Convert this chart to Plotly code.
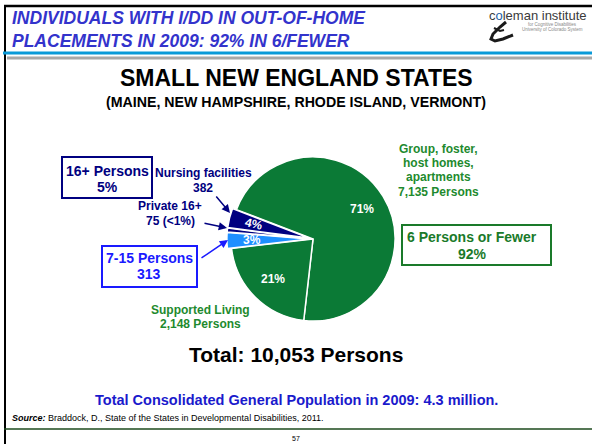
import math
import plotly.graph_objects as go

# Placement categories (small New England states, 2009)
categories = ["Group, foster, host homes, apartments", "Supported Living",
              "7-15 Persons", "Private 16+", "Nursing facilities"]
persons = [7135, 2148, 313, 75, 382]
slice_colors = ["#0b7a36", "#0b7a36", "#1e8fff", "#000080", "#000080"]
slice_pull = [0, 0, 0.05, 0.05, 0.05]
show_pct = [True, True, True, False, True]

total = sum(persons)
W, H = 592, 444
FONT = "Arial, Liberation Sans, sans-serif"


def px(x):
    return x / W


def py(y):
    return 1 - y / H


# pie geometry (pixels)
cx, cy, r = 313, 239, 82
ROTATION = -69  # degrees clockwise from 12 o'clock where the first slice starts
half = r * (1 + max(slice_pull))

fig = go.Figure(go.Pie(
    labels=categories,
    values=persons,
    sort=False,
    direction="clockwise",
    rotation=ROTATION,
    pull=slice_pull,
    textinfo="none",
    marker=dict(colors=slice_colors, line=dict(color="white", width=1.5)),
    domain=dict(x=[px(cx - half), px(cx + half)], y=[py(cy + half), py(cy - half)]),
    hoverinfo="label+value+percent",
    showlegend=False,
))

shapes = []


def line(x0, y0, x1, y1, color, width):
    shapes.append(dict(type="line", xref="paper", yref="paper",
                       x0=px(x0), y0=py(y0), x1=px(x1), y1=py(y1),
                       line=dict(color=color, width=width)))


def box(x0, y0, x1, y1, color):
    shapes.append(dict(type="rect", xref="paper", yref="paper",
                       x0=px(x0), y0=py(y0), x1=px(x1), y1=py(y1),
                       line=dict(color=color, width=2), fillcolor="white"))


def path(points, color, width):
    d = "M " + " L ".join(f"{px(x)},{py(y)}" for x, y in points)
    shapes.append(dict(type="path", xref="paper", yref="paper", path=d,
                       line=dict(color=color, width=width)))


# slide frame
line(4, 6, 592, 6, "black", 2.5)
line(5, 5, 5, 444, "black", 2)
line(3, 53, 592, 53, "#0a9ad8", 3)
line(7, 58, 592, 58, "#a8a8a8", 3)
line(4, 429, 592, 429, "#1d4a1d", 1.5)

# callout boxes
box(62, 157, 152, 198, "#000080")
box(102, 246, 197, 287, "#1a1aff")
box(402, 225, 551, 265, "#1a7a2a")

# logo swoosh
path([(506, 22), (500, 27), (493, 34), (491, 39), (495, 41), (503, 39), (513, 35)], "#1a1a1a", 3)
path([(494, 28), (500, 31), (504, 30)], "#1a1a1a", 2)

annotations = []


def text(x, y, s, size, color, bold=True, italic=False, anchor="center", angle=0):
    t = s
    if bold:
        t = f"<b>{t}</b>"
    if italic:
        t = f"<i>{t}</i>"
    annotations.append(dict(x=px(x), y=py(y), xref="paper", yref="paper", text=t,
                            showarrow=False, xanchor=anchor, yanchor="middle",
                            textangle=angle,
                            font=dict(family=FONT, size=size, color=color)))


def lines(x, ys, rows, size, color):
    for y, row in zip(ys, rows):
        text(x, y, row, size, color)


def arrow(x_head, y_head, x_tail, y_tail, color):
    annotations.append(dict(x=px(x_head), y=py(y_head), xref="paper", yref="paper",
                            ax=x_tail - x_head, ay=y_tail - y_head, text="",
                            showarrow=True, arrowhead=2, arrowsize=1.1,
                            arrowwidth=1.5, arrowcolor=color))


# percentage labels placed at each slice's mid-angle
start = 90 - ROTATION
cum = 0
for v, pull, show in zip(persons, slice_pull, show_pct):
    mid = start - (cum + v / 2) / total * 360
    cum += v
    if not show:
        continue
    rad = math.radians(mid)
    rr = 57 + pull * r
    lx = cx + rr * math.cos(rad)
    ly = cy - rr * math.sin(rad)
    tilt = 0
    if v / total < 0.05 and abs(math.sin(rad)) > 0.15:
        tilt = -math.degrees(math.atan(math.tan(rad)))
    text(lx, ly, f"{round(v / total * 100)}%", 12, "white", angle=tilt)

# header
text(10, 18, "INDIVIDUALS WITH I/DD IN OUT-OF-HOME", 17.5, "#3333cc", italic=True, anchor="left")
text(10, 41, "PLACEMENTS IN 2009: 92% IN 6/FEWER", 17.5, "#3333cc", italic=True, anchor="left")

# logo text
text(538, 16, "c<span style='color:#1a5fa8'>o</span>leman institute", 13, "#3a3a3a", bold=False)
text(552, 25, "for Cognitive Disabilities", 4.5, "#888", bold=False)
text(552, 30, "University of Colorado System", 4.5, "#888", bold=False)

# titles
text(296, 78, "SMALL NEW ENGLAND STATES", 23, "black")
text(296, 102, "(MAINE, NEW HAMPSHIRE, RHODE ISLAND, VERMONT)", 14.2, "black")

# category labels
grp, sup, mid_sz, priv, nurs = persons
lines(438, [149, 163, 177, 192],
      ["Group, foster,", "host homes,", "apartments", f"{grp:,} Persons"], 12, "#1e8a2e")
lines(200, [310, 324], ["Supported Living", f"{sup:,} Persons"], 12, "#1e8a2e")
lines(203, [173, 188], ["Nursing facilities", f"{nurs}"], 12, "#000080")
lines(170, [206, 221], ["Private 16+", f"{priv} (&lt;1%)"], 12, "#000080")

six_or_fewer = round((grp + sup) / total * 100)
large = round((nurs + priv) / total * 100)
lines(472, [237, 254], ["6 Persons or Fewer", f"{six_or_fewer}%"], 14, "#1a7a2a")
lines(107, [171, 187], ["16+ Persons", f"{large}%"], 14, "#000080")
lines(149, [258, 274], ["7-15 Persons", f"{mid_sz}"], 14, "#1a1aff")

# callout arrows
arrow(230, 213, 215, 195, "#000080")
arrow(227, 228, 203, 223, "#000080")
arrow(228, 240, 200, 259, "#1a1aff")

# totals and source
text(296, 354, f"Total: {total:,} Persons", 21, "black")
text(296, 400, "Total Consolidated General Population in 2009: 4.3 million.", 14.5, "#1a1acc")
text(10, 418, "<b><i>Source:</i></b> Braddock, D., State of the States in Developmental Disabilities, 2011.",
     9, "black", bold=False, anchor="left")
text(296, 438, "57", 7, "black", bold=False)

fig.update_layout(
    width=W, height=H,
    margin=dict(l=0, r=0, t=0, b=0),
    paper_bgcolor="white",
    plot_bgcolor="white",
    shapes=shapes,
    annotations=annotations,
)

fig.write_html("out.html")
